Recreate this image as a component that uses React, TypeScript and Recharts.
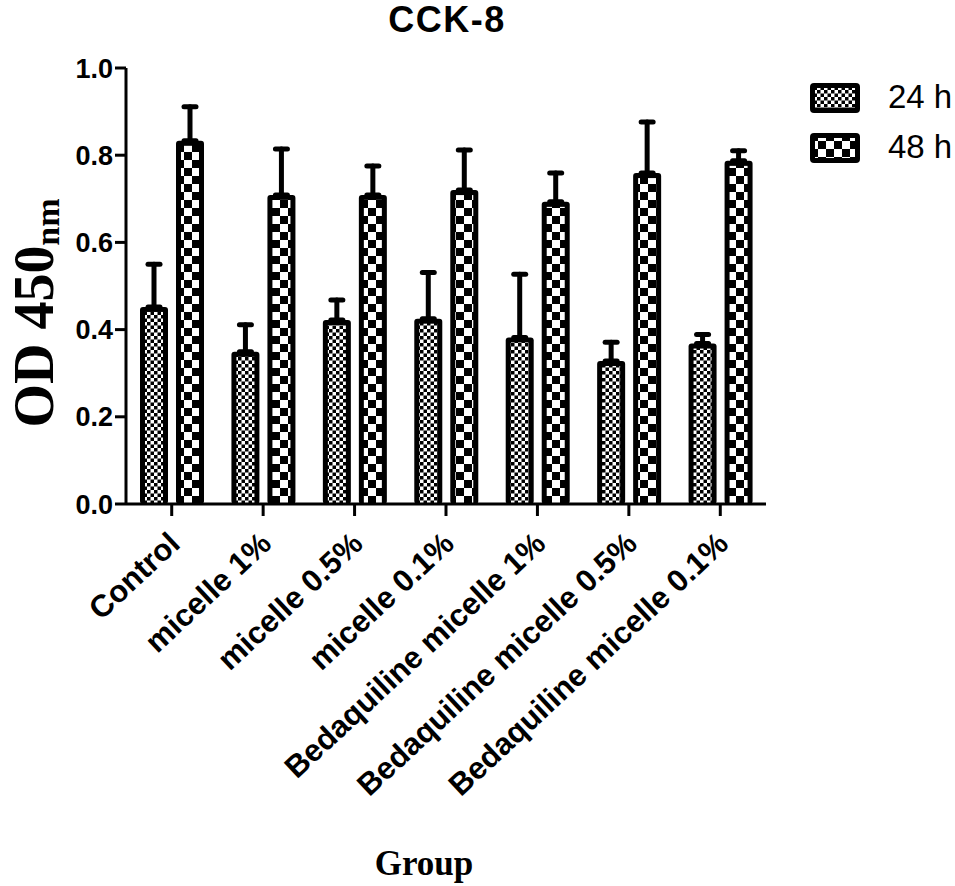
import { Bar, BarChart, ErrorBar, XAxis, YAxis } from "recharts";

const INK = "#000";
const SANS = "Arial, 'Liberation Sans', sans-serif";
const SERIF = "'Times New Roman', 'Liberation Serif', serif";

const groups = [
  "Control",
  "micelle 1%",
  "micelle 0.5%",
  "micelle 0.1%",
  "Bedaquiline micelle 1%",
  "Bedaquiline micelle 0.5%",
  "Bedaquiline micelle 0.1%",
];
const od24 = [0.452, 0.349, 0.422, 0.425, 0.382, 0.328, 0.368];
const od48 = [0.833, 0.709, 0.709, 0.72, 0.693, 0.759, 0.787];
const sd24 = [0.098, 0.062, 0.046, 0.106, 0.145, 0.043, 0.021];
const sd48 = [0.078, 0.105, 0.066, 0.092, 0.066, 0.117, 0.023];
const yTicks = [0, 0.2, 0.4, 0.6, 0.8, 1.0];

const series = [
  { key: "h24", err: "e24", label: "24 h", pattern: "fine" },
  { key: "h48", err: "e48", label: "48 h", pattern: "coarse" },
];

const rows = groups.map((g, i) => ({
  group: g,
  h24: od24[i],
  h48: od48[i],
  e24: [0, sd24[i]],
  e48: [0, sd48[i]],
}));

function Patterns({ prefix }: { prefix: string }) {
  return (
    <defs>
      <pattern id={`${prefix}fine`} width={7} height={7} patternUnits="userSpaceOnUse">
        <rect width={7} height={7} fill="#fff" />
        <rect width={3.5} height={3.5} fill={INK} />
        <rect x={3.5} y={3.5} width={3.5} height={3.5} fill={INK} />
      </pattern>
      <pattern id={`${prefix}coarse`} width={16} height={16} patternUnits="userSpaceOnUse">
        <rect width={16} height={16} fill="#fff" />
        <rect width={8} height={8} fill={INK} />
        <rect x={8} y={8} width={8} height={8} fill={INK} />
      </pattern>
    </defs>
  );
}

function PatternBar(props: any) {
  const { x, y, width, height, fill } = props;
  if (!height || height <= 0) return null;
  return (
    <g>
      <rect x={x} y={y} width={width} height={height} rx={3} fill={INK} />
      <rect x={x + 5} y={y + 5} width={width - 10} height={Math.max(height - 5, 0)} fill={fill} />
    </g>
  );
}

function GroupTick({ x, y, payload }: any) {
  return (
    <g transform={`translate(${x + 10},${y + 30})`}>
      <text
        transform="rotate(-43)"
        textAnchor="end"
        fontFamily={SANS}
        fontWeight="bold"
        fontSize={31}
        fill={INK}
      >
        {payload.value}
      </text>
    </g>
  );
}

function YTitle() {
  return (
    <text
      transform="translate(53,313) rotate(-90)"
      textAnchor="middle"
      fontFamily={SERIF}
      fontWeight="bold"
      fontSize={56}
      fill={INK}
    >
      OD 450
      <tspan fontSize={34} dy={6}>
        nm
      </tspan>
    </text>
  );
}

function XTitle() {
  return (
    <text x={424} y={875} textAnchor="middle" fontFamily={SERIF} fontWeight="bold" fontSize={35} fill={INK}>
      Group
    </text>
  );
}

function LegendBox() {
  return (
    <svg width={150} height={100} style={{ position: "absolute", left: 805, top: 75 }}>
      <Patterns prefix="lg-" />
      {series.map((s, i) => (
        <g key={s.key} transform={`translate(5,${8 + i * 50})`}>
          <rect width={50} height={30} rx={4} fill={INK} />
          <rect x={5} y={5} width={40} height={20} fill={`url(#lg-${s.pattern})`} />
          <text x={78} y={25} fontFamily={SANS} fontSize={33} fill={INK}>
            {s.label}
          </text>
        </g>
      ))}
    </svg>
  );
}

export default function App() {
  return (
    <div style={{ position: "absolute", left: 0, top: 0, width: 955, height: 886, background: "#fff" }}>
      <div
        style={{
          position: "absolute",
          left: 0,
          width: 894,
          top: 2,
          textAlign: "center",
          fontFamily: SANS,
          fontWeight: "bold",
          fontSize: 36,
          letterSpacing: 1.5,
          lineHeight: 1,
          color: INK,
        }}
      >
        CCK-8
      </div>
      <BarChart
        width={955}
        height={886}
        data={rows}
        margin={{ top: 68, right: 189, bottom: 0, left: 0 }}
        barSize={28}
        barGap={8}
      >
        <Patterns prefix="bar-" />
        <XAxis
          dataKey="group"
          height={382}
          interval={0}
          axisLine={{ stroke: INK, strokeWidth: 3 }}
          tickLine={{ stroke: INK, strokeWidth: 3 }}
          tickSize={12}
          tickMargin={0}
          tick={<GroupTick />}
          label={{ content: () => <XTitle /> }}
        />
        <YAxis
          width={126}
          domain={[0, 1]}
          ticks={yTicks}
          interval={0}
          tickFormatter={(v: number) => v.toFixed(1)}
          axisLine={{ stroke: INK, strokeWidth: 3 }}
          tickLine={{ stroke: INK, strokeWidth: 3 }}
          tickSize={11}
          tickMargin={2}
          tick={{ fontFamily: SANS, fontWeight: "bold", fontSize: 27, fill: INK }}
          label={{ content: () => <YTitle /> }}
        />
        {series.map((s) => (
          <Bar
            key={s.key}
            dataKey={s.key}
            name={s.label}
            fill={`url(#bar-${s.pattern})`}
            shape={<PatternBar />}
            isAnimationActive={false}
          >
            <ErrorBar
              dataKey={s.err}
              direction="y"
              width={6}
              stroke={INK}
              strokeWidth={5}
              strokeLinecap="round"
            />
          </Bar>
        ))}
      </BarChart>
      <LegendBox />
    </div>
  );
}
